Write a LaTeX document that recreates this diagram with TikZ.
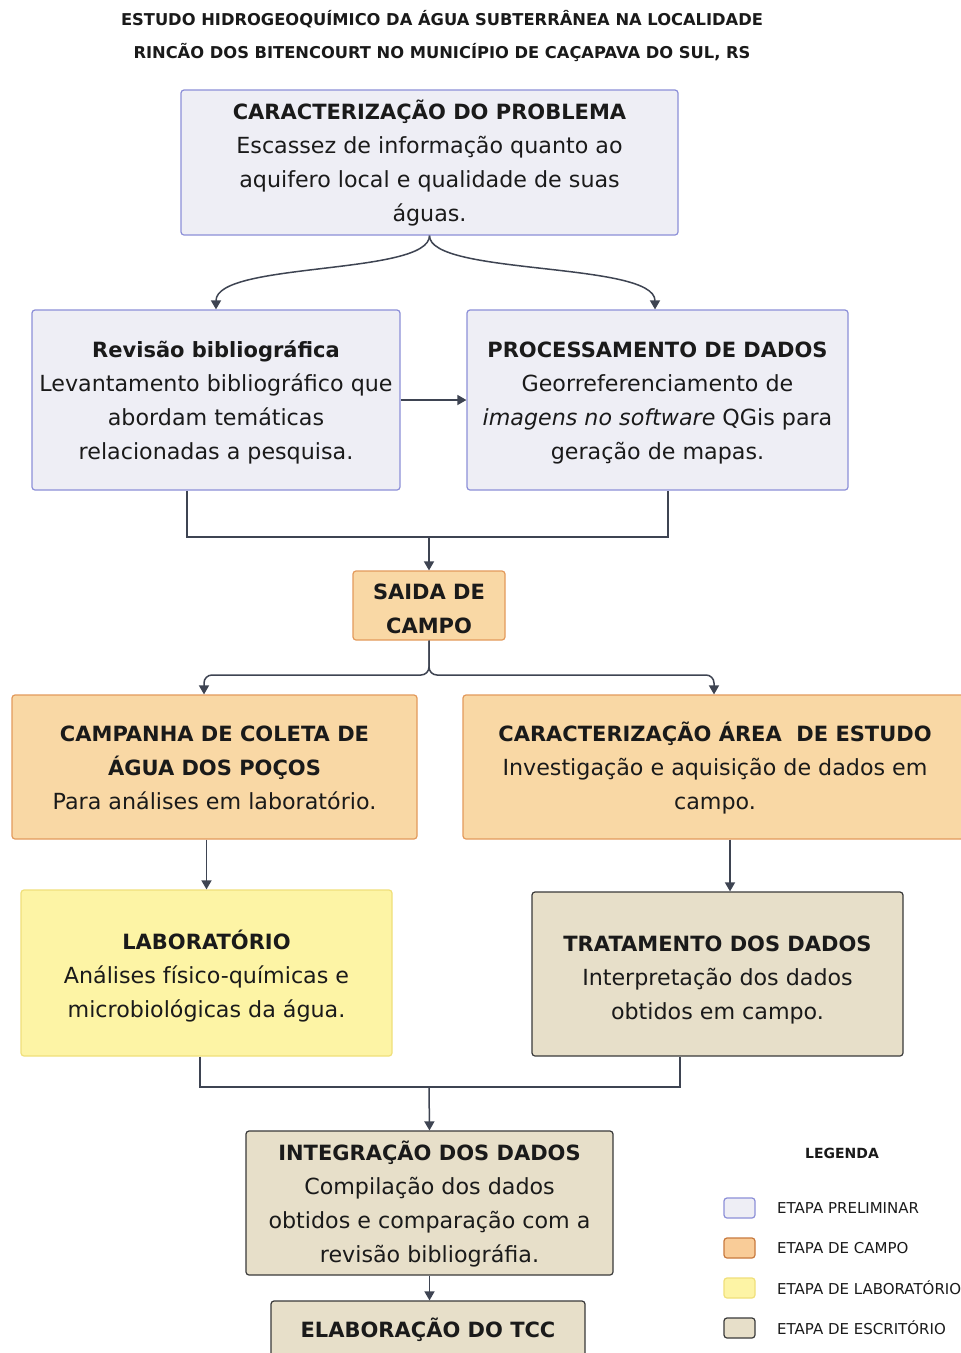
\documentclass[tikz,border=0pt]{standalone}
\usepackage{fontspec}
\setmainfont{DejaVu Sans}
\usetikzlibrary{arrows.meta}
\definecolor{txt}{HTML}{1A1A1A}
\definecolor{prefill}{HTML}{EEEEF5}
\definecolor{predraw}{HTML}{8C8FD8}
\definecolor{camfill}{HTML}{F9D8A5}
\definecolor{camdraw}{HTML}{E39A5C}
\definecolor{legcamfill}{HTML}{F9CC98}
\definecolor{legcamdraw}{HTML}{C87A3E}
\definecolor{labfill}{HTML}{FDF4A5}
\definecolor{labdraw}{HTML}{F0E07A}
\definecolor{escfill}{HTML}{E7DFC9}
\definecolor{escdraw}{HTML}{3A3A3A}
\definecolor{arr}{HTML}{3E4452}
\newcommand{\headtxt}[1]{{\fontsize{21}{34}\selectfont\bfseries #1}}
\tikzset{
  box/.style={inner sep=0pt, rounded corners=3pt, line width=1.2pt},
  btxt/.style={font=\fontsize{22.2}{34}\selectfont, text=txt, align=center, inner sep=0pt},
  pre/.style={box, fill=prefill, draw=predraw},
  cam/.style={box, fill=camfill, draw=camdraw},
  lab/.style={box, fill=labfill, draw=labdraw},
  esc/.style={box, fill=escfill, draw=escdraw},
  conn/.style={draw=arr, line width=1.5pt},
  arrow/.style={conn, -{Triangle[length=9pt,width=10pt]}},
  leg/.style={font=\fontsize{15}{16}\selectfont, text=txt, anchor=west, inner sep=0pt},
  swatch/.style={minimum width=31pt, minimum height=20pt, rounded corners=3pt, line width=1.2pt, inner sep=0pt}
}
\begin{document}
\begin{tikzpicture}[x=1pt,y=-1pt]
\useasboundingbox (0,0) rectangle (961,1353);
\clip (0,0) rectangle (961,1353);
\fill[white] (0,0) rectangle (961,1353);

% title
\node[font=\fontsize{16.3}{33}\selectfont\bfseries, text=txt, align=center, inner sep=0pt] (title) at (442,36.5)
  {ESTUDO HIDROGEOQUÍMICO DA ÁGUA SUBTERRÂNEA NA LOCALIDADE\\RINCÃO DOS BITENCOURT NO MUNICÍPIO DE CAÇAPAVA DO SUL, RS};

% boxes
\node[pre, minimum width=497pt, minimum height=145pt] (b1) at (429.5,162.5) {};
\node[btxt] (b1t) at ([yshift=-0.5pt]b1.center)
  {\headtxt{CARACTERIZAÇÃO DO PROBLEMA}\\Escassez de informação quanto ao\\aquifero local e qualidade de suas\\águas.};
\node[pre, minimum width=368pt, minimum height=180pt] (b2) at (216,400) {};
\node[btxt] (b2t) at ([yshift=-2pt]b2.center)
  {\headtxt{Revisão bibliográfica}\\Levantamento bibliográfico que\\abordam temáticas\\relacionadas a pesquisa.};
\node[pre, minimum width=381pt, minimum height=180pt] (b3) at (657.5,400) {};
\node[btxt] (b3t) at ([yshift=-3pt]b3.center)
  {\headtxt{PROCESSAMENTO DE DADOS}\\Georreferenciamento de\\\textit{imagens no software} QGis para\\geração de mapas.};
\node[cam, minimum width=152pt, minimum height=69pt] (sai) at (429,605.5) {};
\node[btxt] (sait) at ([yshift=-3.5pt]sai.center)
  {\headtxt{SAIDA DE}\\\headtxt{CAMPO}};
\node[cam, minimum width=405pt, minimum height=144pt] (camp) at (214.5,767) {};
\node[btxt] (campt) at ([yshift=-1pt]camp.center)
  {\headtxt{CAMPANHA DE COLETA DE}\\\headtxt{ÁGUA DOS POÇOS}\\Para análises em laboratório.};
\node[cam, minimum width=504pt, minimum height=144pt] (area) at (715,767) {};
\node[btxt] (areat) at ([yshift=-1pt]area.center)
  {\headtxt{CARACTERIZAÇÃO ÁREA\ \ DE ESTUDO}\\Investigação e aquisição de dados em\\campo.};
\node[lab, minimum width=371pt, minimum height=166pt] (labo) at (206.5,973) {};
\node[btxt] (labot) at ([yshift=-3pt]labo.center)
  {\headtxt{LABORATÓRIO}\\Análises físico-químicas e\\microbiológicas da água.};
\node[esc, minimum width=371pt, minimum height=164pt] (trat) at (717.5,974) {};
\node[btxt] (tratt) at ([yshift=-6pt]trat.center)
  {\headtxt{TRATAMENTO DOS DADOS}\\Interpretação dos dados\\obtidos em campo.};
\node[esc, minimum width=367pt, minimum height=144pt] (integ) at (429.5,1203) {};
\node[btxt] (integt) at ([yshift=-1pt]integ.center)
  {\headtxt{INTEGRAÇÃO DOS DADOS}\\Compilação dos dados\\obtidos e comparação com a\\revisão bibliográfia.};
\node[esc, minimum width=314pt, minimum height=56pt] (elab) at (428,1329) {};
\node[btxt] (elabt) at ([yshift=-1pt]elab.center) {\headtxt{ELABORAÇÃO DO TCC}};

% connectors
\draw[arrow] (b1.south) .. controls +(0,40) and +(0,-48) .. (b2.north);
\draw[arrow] (b1.south) .. controls +(0,40) and +(0,-48) .. ([xshift=-2.5pt]b3.north);
\draw[arrow] (b2.east) -- (b3.west);

\coordinate (j1) at (429,537);
\draw[conn] ([xshift=-29pt]b2.south) |- (j1) -| ([xshift=10.5pt]b3.south);
\draw[arrow] (j1) -- (sai.north);

\coordinate (j2) at (429,675);
\draw[arrow, rounded corners=8pt] (sai.south) -- (j2) -| ([xshift=-10.5pt]camp.north);
\draw[arrow, rounded corners=8pt] (sai.south) -- (j2) -| ([xshift=-1pt]area.north);

\draw[arrow] (camp.south -| labo.north) -- (labo.north);
\coordinate (tt) at ([xshift=12.5pt]trat.north);
\draw[arrow] (area.south -| tt) -- (tt);

\coordinate (j3) at (429,1087);
\draw[conn] ([xshift=-6.5pt]labo.south) |- (j3) -| ([xshift=-37.5pt]trat.south);
\draw[arrow] (j3) -- (integ.north);
\draw[arrow] (integ.south) -- (integ.south |- elab.north);

% legend
\node[font=\fontsize{14}{16}\selectfont\bfseries, text=txt, inner sep=0pt] (legt) at (842,1153) {LEGENDA};
\node[swatch, fill=prefill, draw=predraw] (s1) at (739.5,1208) {};
\node[swatch, fill=legcamfill, draw=legcamdraw] (s2) at (739.5,1248) {};
\node[swatch, fill=labfill, draw=labdraw] (s3) at (739.5,1288) {};
\node[swatch, fill=escfill, draw=escdraw] (s4) at (739.5,1328) {};
\node[leg] (l1) at (777,1208) {ETAPA PRELIMINAR};
\node[leg] (l2) at (777,1248) {ETAPA DE CAMPO};
\node[leg] (l3) at (777,1288) {ETAPA DE LABORATÓRIO};
\node[leg] (l4) at (777,1328) {ETAPA DE ESCRITÓRIO};
\end{tikzpicture}
\end{document}
